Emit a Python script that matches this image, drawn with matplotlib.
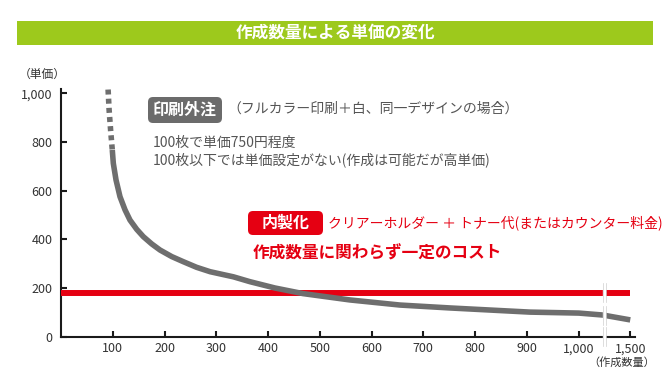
import numpy as np
import matplotlib
matplotlib.use('Agg')
import matplotlib.pyplot as plt
from matplotlib.patches import FancyBboxPatch, Rectangle
from matplotlib.transforms import IdentityTransform

plt.rcParams['font.family'] = ['Noto Sans CJK JP', 'DejaVu Sans']

# ---------------- data ----------------
title = '作成数量による単価の変化'
x_tick_values = [100, 200, 300, 400, 500, 600, 700, 800, 900, 1000, 1500]
x_tick_labels = ['100', '200', '300', '400', '500', '600', '700', '800', '900', '1,000', '1,500']
y_tick_values = [0, 200, 400, 600, 800, 1000]
y_tick_labels = ['0', '200', '400', '600', '800', '1,000']

# outsourced printing: dashed part (below 100 pcs, no price setting)
outsourced_dash_qty = [91, 93, 96, 99.1]
outsourced_dash_price = [1015, 930, 845, 767]
# outsourced printing: solid part
outsourced_qty = [99.1, 101.1, 106.3, 114, 123.7, 133.3, 146.3, 159, 175.3, 191.3,
                  214, 236.4, 262, 288, 313.6, 333, 365, 413.5, 467.6, 558,
                  655, 752, 906, 1003, 1235, 1500]
outsourced_price = [767, 712, 644, 575, 521, 479, 441, 411, 381, 356,
                    329, 308, 285, 267, 255, 246, 226, 200, 177, 151,
                    130, 118, 101, 97, 89, 69]
# in-house production: constant cost
inhouse_qty = [0, 1500]
inhouse_price = [180, 180]

break_qty = 1250  # axis break between 1,000 and 1,500


def pos(q):
    """Broken x scale: linear up to 1,000, then 1,000-1,500 compressed to one step."""
    q = np.asarray(q, dtype=float)
    return np.where(q <= 1000, q / 100.0, 10 + (q - 1000) / 500.0)


W, H = 670, 378
fig = plt.figure(figsize=(W / 100, H / 100), dpi=100)


def fx(x):
    return x / W


def fy(y):
    return (H - y) / H


# ---------------- title band ----------------
fig.add_artist(Rectangle((17, H - 45), 636, 24, transform=IdentityTransform(),
                         facecolor='#9dc91c', edgecolor='none'))
fig.text(fx(335), fy(33), title, color='white', fontsize=12, fontweight='bold',
         ha='center', va='center')

# ---------------- axes ----------------
px_per_step = 51.75
ax = fig.add_axes([fx(61), fy(336.7), 574 / W, (336.7 - 89.3) / H])
ax.set_xlim(0, 574 / px_per_step)
ax.set_ylim(0, 1016)
for s in ['top', 'right']:
    ax.spines[s].set_visible(False)
for s in ['left', 'bottom']:
    ax.spines[s].set_color('#1a1a1a')
    ax.spines[s].set_linewidth(1.5)

ax.set_xticks(pos(x_tick_values))
ax.set_xticklabels(x_tick_labels)
ax.set_yticks(y_tick_values)
ax.set_yticklabels(y_tick_labels)
ax.tick_params(direction='in', length=4, width=1.5, color='#1a1a1a',
               labelsize=9, labelcolor='#333333')
ax.tick_params(axis='y', pad=6)
ax.tick_params(axis='x', pad=4)

gray = '#6e6e6e'
red = '#e50012'

ax.plot(pos(inhouse_qty), inhouse_price, color=red, lw=4.3,
        solid_capstyle='butt', zorder=3)
ax.plot(pos(outsourced_qty), outsourced_price, color=gray, lw=4.0,
        solid_capstyle='butt', solid_joinstyle='round', zorder=4)
ax.plot(pos(outsourced_dash_qty), outsourced_dash_price, color=gray, lw=4.0,
        linestyle=(0, (0.9, 0.75)), dash_capstyle='butt', zorder=4)

# axis break marks
bx = float(pos(break_qty))
half = 12 / 0.2434
curve_at_break = np.interp(break_qty, outsourced_qty, outsourced_price)
for v in [inhouse_price[0], curve_at_break, 0]:
    ax.plot([bx, bx], [v - half, v + half], color='white', lw=2.4,
            zorder=6, clip_on=False, solid_capstyle='butt')
    for d in (-0.035, 0.035):
        ax.plot([bx + d, bx + d], [v - half * 0.8, v + half * 0.8],
                color='#cfcfcf', lw=0.5, zorder=7, clip_on=False)

# axis unit labels
fig.text(fx(42), fy(74), '（単価）', fontsize=8.5, color='#333333',
         ha='center', va='center')
fig.text(fx(622), fy(362), '（作成数量）', fontsize=8, color='#333333',
         ha='center', va='center')

# ---------------- annotations ----------------
fig.add_artist(FancyBboxPatch((148, H - 123), 74, 26,
                              boxstyle='round,pad=0,rounding_size=5',
                              transform=IdentityTransform(),
                              facecolor='#6b6b6b', edgecolor='none'))
fig.text(fx(185), fy(110), '印刷外注', color='white', fontsize=11.5,
         fontweight='bold', ha='center', va='center')
fig.text(fx(227), fy(109), '（フルカラー印刷＋白、同一デザインの場合）',
         color='#555555', fontsize=10, ha='left', va='center')
fig.text(fx(153), fy(143), '100枚で単価750円程度', color='#555555',
         fontsize=10, ha='left', va='center')
fig.text(fx(153), fy(160), '100枚以下では単価設定がない(作成は可能だが高単価)',
         color='#555555', fontsize=10, ha='left', va='center')

fig.add_artist(FancyBboxPatch((248, H - 235), 75, 24,
                              boxstyle='round,pad=0,rounding_size=5',
                              transform=IdentityTransform(),
                              facecolor=red, edgecolor='none'))
fig.text(fx(285.5), fy(223), '内製化', color='white', fontsize=11.5,
         fontweight='bold', ha='center', va='center')
fig.text(fx(328), fy(223), 'クリアーホルダー ＋ トナー代(またはカウンター料金)',
         color=red, fontsize=10, ha='left', va='center')
fig.text(fx(253), fy(254), '作成数量に関わらず一定のコスト', color=red,
         fontsize=12, fontweight='bold', ha='left', va='center')

fig.savefig('out.png', dpi=100, facecolor='white')
